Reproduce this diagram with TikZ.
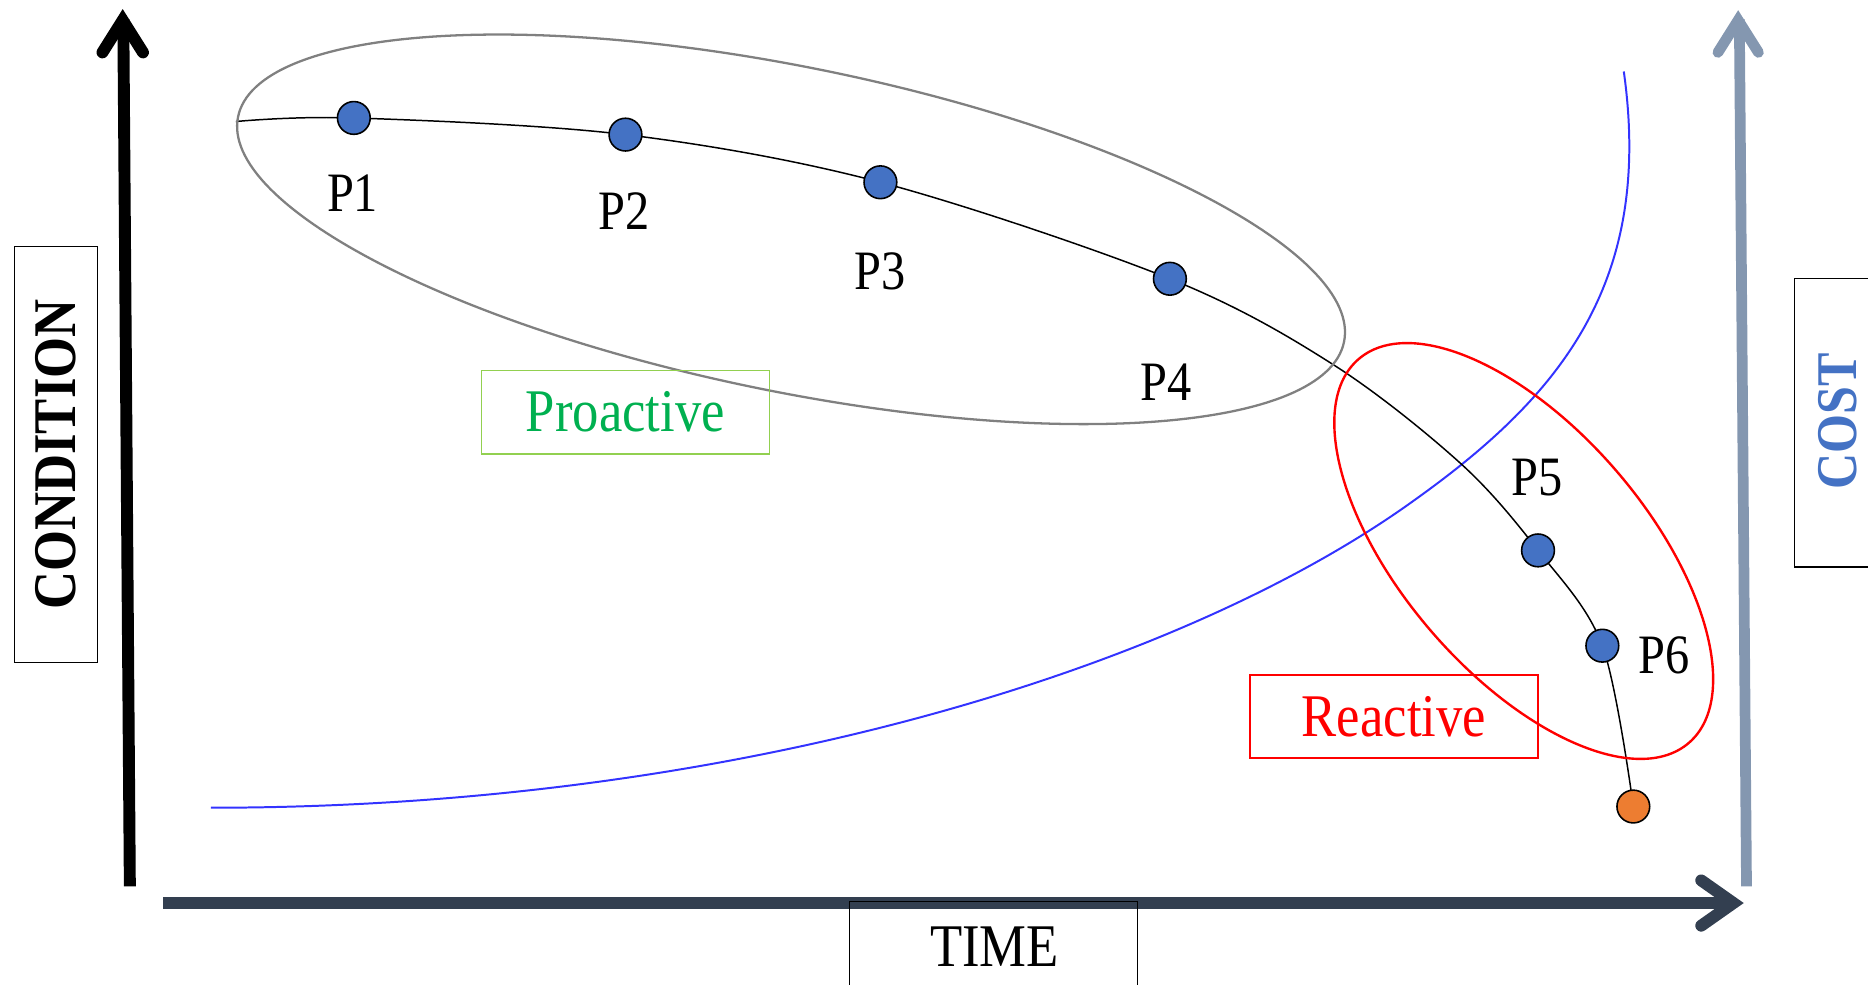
\documentclass[tikz,border=0pt]{standalone}
\usepackage{fontspec}
\setmainfont{Liberation Serif}
\newcommand{\narrowtext}[1]{\scalebox{0.87}[1]{#1}}
\definecolor{dotblue}{HTML}{4472C4}
\definecolor{dotorange}{HTML}{ED7D31}
\definecolor{costaxis}{HTML}{8497B0}
\definecolor{timeaxis}{HTML}{333F50}
\definecolor{proframe}{HTML}{92D050}
\definecolor{protext}{HTML}{00B050}
\definecolor{curveblue}{HTML}{3333FF}
\definecolor{ringgray}{HTML}{808080}
\begin{document}
\begin{tikzpicture}[x=0.6pt,y=-0.6pt,
  stage/.style={circle, draw=black, line width=0.8pt, fill=dotblue,
    minimum size=16.5pt, inner sep=0pt},
  failure/.style={stage, fill=dotorange},
  stagelabel/.style={inner sep=0pt, font=\fontsize{28}{28}\selectfont},
  axisbox/.style={draw=black, line width=0.65pt, inner sep=0pt},
  axislabel/.style={inner sep=0pt, font=\fontsize{30.5}{30.5}\selectfont},
  zonebox/.style={line width=0.8pt, inner sep=0pt, minimum width=145.2pt,
    minimum height=42pt, font=\fontsize{30.5}{30.5}\selectfont},
  axisline/.style={line width=6pt},
  axishead/.style={line width=6pt, line cap=round, line join=miter},
  ring/.style={line width=1.15pt}]
\useasboundingbox (0,0) rectangle (1568,826);

% condition axis (vertical, left)
\draw[axisline, black] (109,744) -- (103.5,16);
\draw[axishead, black] (86,44) -- (103,17) -- (120,44);
% cost axis (vertical, right)
\draw[axisline, costaxis, line width=5.4pt] (1466,744) -- (1460,16);
\draw[axishead, costaxis, line width=5.4pt] (1442,44) -- (1459,17) -- (1476,44);
% time axis (horizontal, bottom)
\draw[axisline, timeaxis] (137,758) -- (1455,758);
\draw[axishead, timeaxis] (1428,739) -- (1455,758) -- (1428,777);

% axis titles
\node[axisbox, minimum width=42pt, minimum height=209.4pt] (condbox) at (47,381.5)
  {\rotatebox{90}{\fontsize{30.5}{30.5}\selectfont\bfseries\narrowtext{CONDITION}}};
\node[axisbox, minimum width=56.4pt, minimum height=145.2pt] (costbox) at (1553,355) {};
\node[inner sep=0pt, text=dotblue] (costlabel) at (1542.5,354)
  {\rotatebox{90}{\fontsize{29}{29}\selectfont\bfseries\narrowtext{COST}}};
\node[axisbox, minimum width=145.2pt, minimum height=66pt] (timebox) at (834,812) {};
\node[axislabel] (timelabel) at (834.8,795) {\narrowtext{TIME}};

% cost curve
\coordinate (b0) at (177,678);
\coordinate (b1) at (1187,420);
\coordinate (b2) at (1363,60);
\draw[curveblue, line width=1pt] (b0)
  .. controls (617,678) and (991.6,560.8) .. (b1)
  .. controls (1309,333) and (1388,238) .. (b2);

% condition curve
\coordinate (c0) at (198,102);
\coordinate (c1) at (297,99);
\coordinate (c2) at (525,113);
\coordinate (c3) at (739,153);
\coordinate (c4) at (982,234);
\coordinate (m1) at (1119,306);
\coordinate (m2) at (1226,389);
\coordinate (c5) at (1291,462);
\coordinate (c6) at (1345,542);
\coordinate (c7) at (1371,677);
\draw[black, line width=0.75pt] plot[smooth, tension=0.55] coordinates
  {(c0) (c1) (c2) (c3) (c4) (m1) (m2) (c5) (c6) (c7)};

% groupings
\draw[ringgray, ring, rotate around={-11.5:(664,192.5)}] (664,192.5)
  ellipse [x radius=473.7, y radius=136.2];
\draw[red, ring, line width=1.2pt, rotate around={-49.3:(1279,462.5)}] (1279,462.5)
  ellipse [x radius=212.5, y radius=102.8];

% inspection points
\node[stage] (p1) at (c1) {};
\node[stage] (p2) at (c2) {};
\node[stage] (p3) at (c3) {};
\node[stage] (p4) at (c4) {};
\node[stage] (p5) at (c5) {};
\node[stage] (p6) at (c6) {};
\node[failure] (pf) at (c7) {};

\node[stagelabel] (l1) at (296,162) {\narrowtext{P1}};
\node[stagelabel] (l2) at (524,177) {\narrowtext{P2}};
\node[stagelabel] (l3) at (739,228) {\narrowtext{P3}};
\node[stagelabel] (l4) at (979,321) {\narrowtext{P4}};
\node[stagelabel] (l5) at (1290,401) {\narrowtext{P5}};
\node[stagelabel] (l6) at (1397,550) {\narrowtext{P6}};

% maintenance zones
\node[zonebox, draw=proframe, text=protext] (proactive) at (525,346) {\narrowtext{Proactive}};
\node[zonebox, draw=red, text=red] (reactive) at (1170,601.5) {\narrowtext{Reactive}};
\end{tikzpicture}
\end{document}
